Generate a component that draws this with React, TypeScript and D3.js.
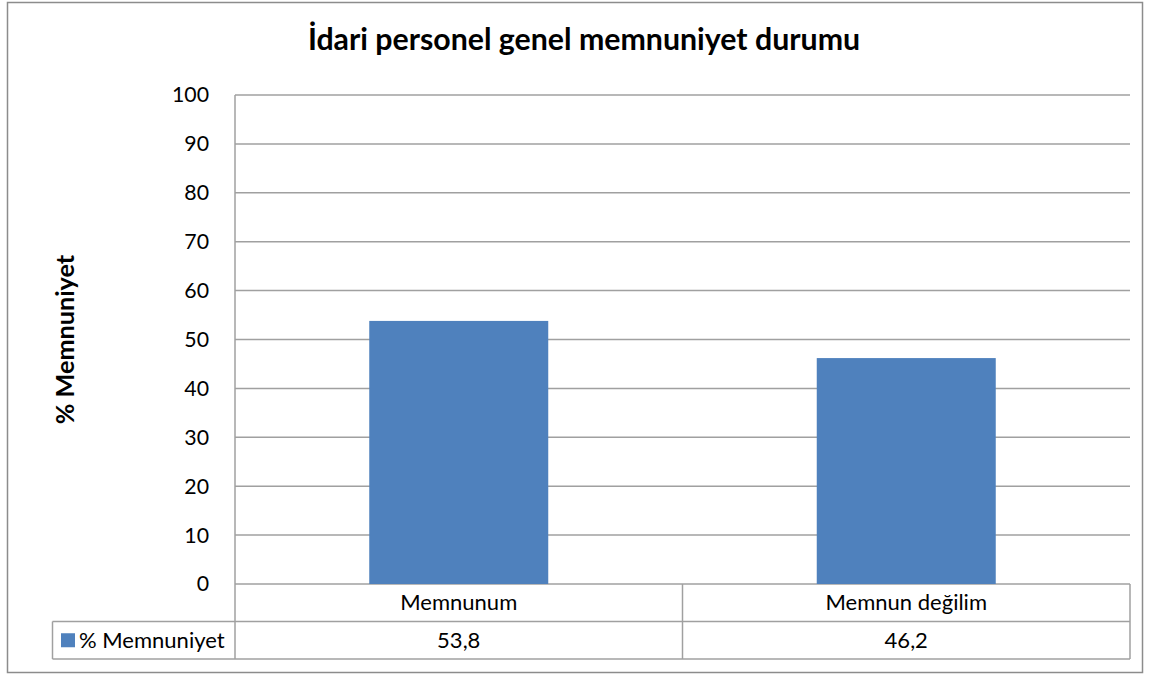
import React from 'react';
import * as d3 from 'd3';

const categories = ['Memnunum', 'Memnun değilim'];
const values = [53.8, 46.2];
const valueLabels = ['53,8', '46,2'];
const seriesName = '% Memnuniyet';
const yTicks = [0, 10, 20, 30, 40, 50, 60, 70, 80, 90, 100];

const FONT = 'Lato, Open Sans, sans-serif';

export default function App() {
  const width = 1152;
  const height = 675;
  const plot = { left: 235, right: 1130, top: 95, bottom: 584 };
  const rowH = 37.5;
  const tableLeft = 52.5;

  const x = d3.scaleBand<string>()
    .domain(categories)
    .range([plot.left, plot.right])
    .paddingInner(0)
    .paddingOuter(0);

  const y = d3.scaleLinear()
    .domain([0, 100])
    .range([plot.bottom, plot.top]);

  const barW = x.bandwidth() * 0.4;
  const grid = '#a0a0a0';
  const row2 = plot.bottom + rowH * 1.5;

  return (
    <svg width={width} height={height} style={{ position: 'absolute', left: 0, top: 0 }}>
      <rect x={0} y={0} width={width} height={height} fill="#fff" />
      <rect x={7.5} y={2.5} width={1135} height={670} fill="none" stroke="#8c8c8c" strokeWidth={1.5} />

      <text x={584} y={50} textAnchor="middle" fontFamily={FONT} fontWeight="bold" fontSize={30.3} fill="#000">
        İdari personel genel memnuniyet durumu
      </text>

      {/* gridlines */}
      {yTicks.map(t => (
        <line key={t} x1={plot.left} x2={plot.right} y1={y(t)} y2={y(t)} stroke={grid} strokeWidth={1.5} />
      ))}

      {/* y tick labels */}
      {yTicks.map(t => (
        <text key={'l' + t} x={209} y={y(t)} dy="0.35em" textAnchor="end" fontFamily={FONT} fontSize={21.3} fill="#000">
          {t}
        </text>
      ))}

      <text transform={`translate(74,${(plot.top + plot.bottom) / 2}) rotate(-90)`} textAnchor="middle"
        fontFamily={FONT} fontWeight="bold" fontSize={25.2} fill="#000">
        % Memnuniyet
      </text>

      {/* bars */}
      {categories.map((c, i) => (
        <rect key={c} x={(x(c) ?? 0) + (x.bandwidth() - barW) / 2} y={y(values[i])}
          width={barW} height={plot.bottom - y(values[i])} fill="#4f81bd" />
      ))}

      {/* y axis */}
      <line x1={plot.left} x2={plot.left} y1={plot.top} y2={plot.bottom} stroke={grid} strokeWidth={1.5} />

      {/* data table */}
      <line x1={tableLeft} x2={plot.right} y1={plot.bottom + rowH} y2={plot.bottom + rowH} stroke={grid} strokeWidth={1.5} />
      <line x1={tableLeft} x2={plot.right} y1={plot.bottom + rowH * 2} y2={plot.bottom + rowH * 2} stroke={grid} strokeWidth={1.5} />
      <line x1={tableLeft} x2={tableLeft} y1={plot.bottom + rowH} y2={plot.bottom + rowH * 2} stroke={grid} strokeWidth={1.5} />
      <line x1={plot.left} x2={plot.left} y1={plot.bottom} y2={plot.bottom + rowH * 2} stroke={grid} strokeWidth={1.5} />
      {categories.map(c => (
        <line key={'v' + c} x1={(x(c) ?? 0) + x.bandwidth()} x2={(x(c) ?? 0) + x.bandwidth()}
          y1={plot.bottom} y2={plot.bottom + rowH * 2} stroke={grid} strokeWidth={1.5} />
      ))}
      {categories.map((c, i) => (
        <g key={'t' + c}>
          <text x={(x(c) ?? 0) + x.bandwidth() / 2} y={plot.bottom + rowH / 2} dy="0.35em" textAnchor="middle"
            fontFamily={FONT} fontSize={22} fill="#000">{c}</text>
          <text x={(x(c) ?? 0) + x.bandwidth() / 2} y={row2} dy="0.35em" textAnchor="middle"
            fontFamily={FONT} fontSize={22} fill="#000">{valueLabels[i]}</text>
        </g>
      ))}
      <rect x={61} y={row2 - 7} width={14} height={14} fill="#4f81bd" />
      <text x={79} y={row2} dy="0.35em" fontFamily={FONT} fontSize={22} fill="#000">{seriesName}</text>
    </svg>
  );
}
